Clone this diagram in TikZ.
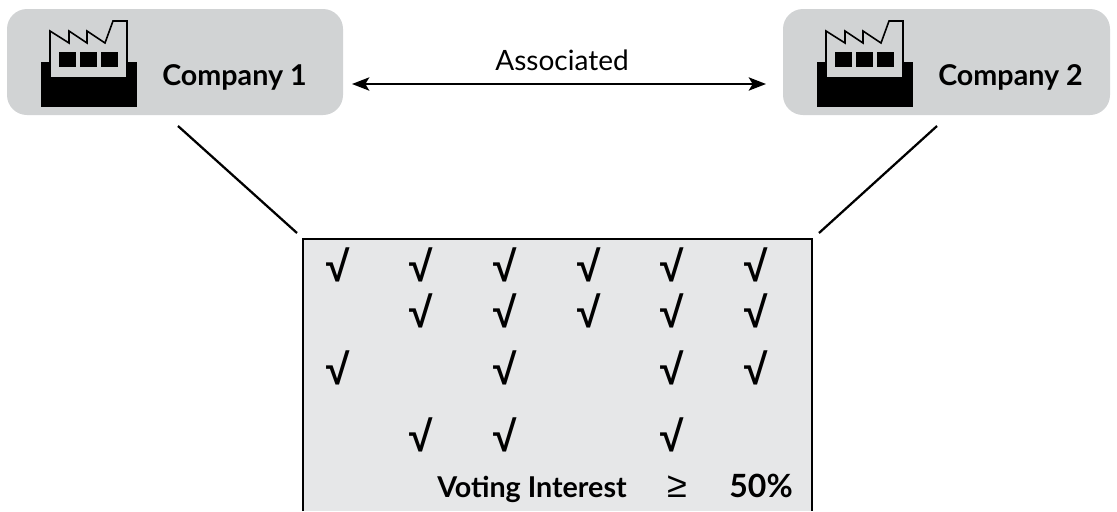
\documentclass[tikz,border=0pt]{standalone}
\usepackage{fontspec}
\setmainfont{Lato}
\newfontfamily\symfont{Liberation Sans}
\usetikzlibrary{arrows.meta}
\definecolor{boxgray}{HTML}{D1D3D4}
\definecolor{tablegray}{HTML}{E6E7E8}
\tikzset{
  x=0.75pt,y=-0.75pt,
  company/.style={fill=boxgray,rounded corners=15pt},
  coname/.style={font=\fontsize{21.5}{24}\selectfont\bfseries,anchor=base west,inner sep=0pt},
  tick/.style={font=\symfont\fontsize{32}{33}\selectfont\bfseries,inner sep=0pt},
  tabtext/.style={font=\fontsize{21.5}{24}\selectfont\bfseries,anchor=base,inner sep=0pt},
  link/.style={line width=1.7pt,black},
}
\newcommand{\factory}[1]{%
  \begin{scope}[shift={(#1,0)}]
    \fill[black] (41,62) rectangle (137,107);
    \draw[fill=boxgray,line width=1.2pt,miter limit=10] (50,78) -- (50,31) -- (69,43) -- (69,31) -- (87,43) -- (87,31) -- (105,43) -- (113,21) -- (127,21) -- (127,78) -- cycle;
    \fill[black] (59,52) rectangle (76,67);
    \fill[black] (80,52) rectangle (97,67);
    \fill[black] (101,52) rectangle (118,67);
  \end{scope}}
\begin{document}
\begin{tikzpicture}
\useasboundingbox (0,0) rectangle (1117,511);
\fill[company] (7,9) rectangle (343,115);
\fill[company] (783,9) rectangle (1110,115);
\factory{0}
\factory{776}
\node[coname] (c1) at (162,85) {Company 1};
\node[coname] (c2) at (938,85) {Company 2};
\coordinate (a1) at (352,84);
\coordinate (a2) at (766,84);
\draw[line width=1.4pt,{Stealth[length=13pt,width=10pt,inset=3pt]}-{Stealth[length=13pt,width=10pt,inset=3pt]}] (a1) -- (a2);
\node[font=\fontsize{21}{24}\selectfont,anchor=base,inner sep=0pt] (assoc) at (562,70) {Associated};
\coordinate (l1a) at (178,126);
\coordinate (l1b) at (297,233);
\coordinate (l2a) at (937,126);
\coordinate (l2b) at (819,233);
\draw[link] (l1a) -- (l1b);
\draw[link] (l2a) -- (l2b);
\fill[tablegray] (303,239) rectangle (812,511);
\draw[line width=1.9pt] (303,511) -- (303,239) -- (812,239) -- (812,511);
\foreach \cx/\cy in {338/265,421/265,505/265,589/265,672/265,756/265,
   421/311,505/311,589/311,672/311,756/311,
   338/368,505/368,672/368,756/368,
   421/435,505/435,672/435}{
  \node[tick] at (\cx,\cy) {√};
}
\node[tabtext,anchor=base east] (vi) at (627,497) {Voting Interest};
\node[font=\symfont\fontsize{27}{28}\selectfont,anchor=base,inner sep=0pt] (ge) at (677,497) {≥};
\node[tabtext,anchor=base east,font=\fontsize{24}{26}\selectfont\bfseries] (pc) at (793,497) {50\%};
\end{tikzpicture}
\end{document}
